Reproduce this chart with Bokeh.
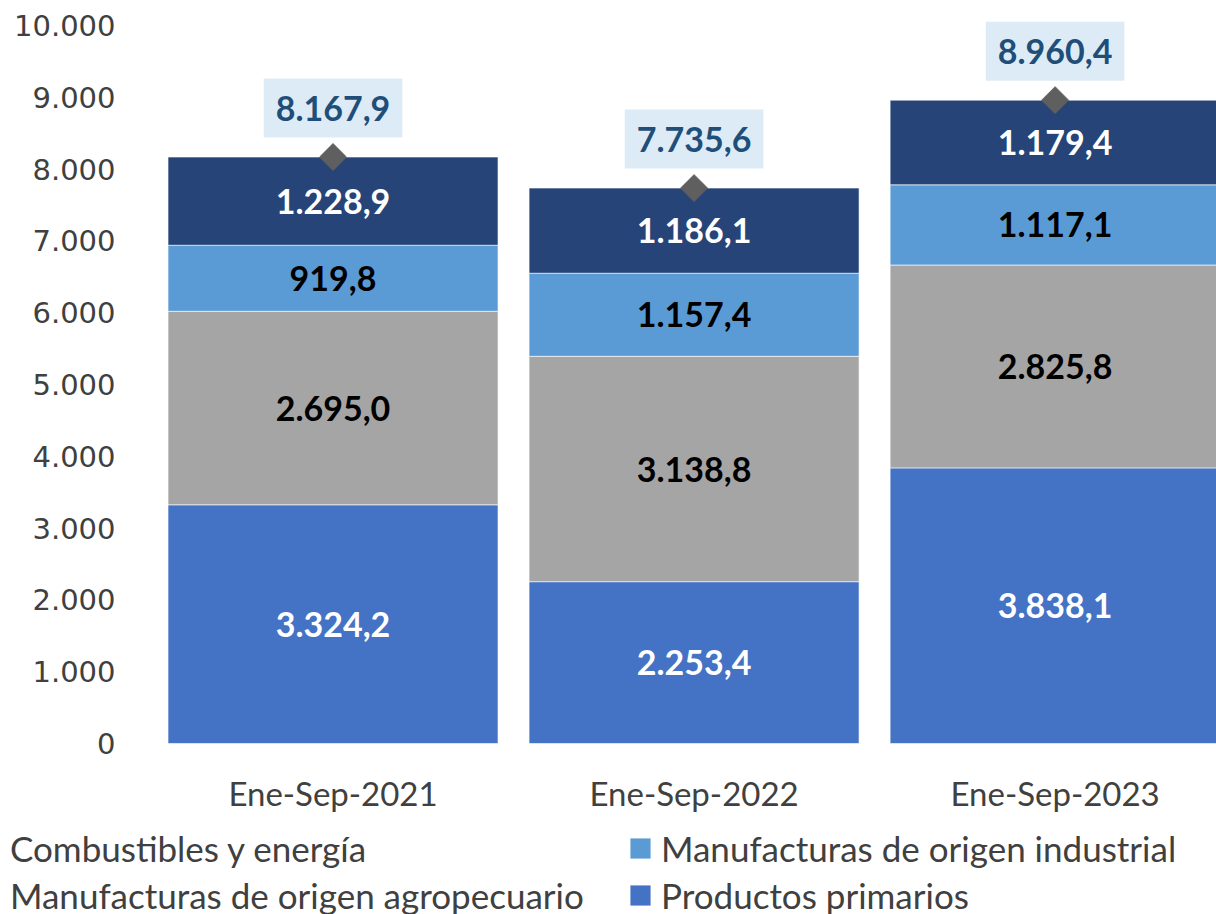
import numpy as np
from bokeh.plotting import figure
from bokeh.models import ColumnDataSource, Range1d, Legend, LegendItem
from bokeh.core.properties import value
from bokeh.embed import file_html
from bokeh.resources import INLINE

periods = ["Ene-Sep-2021", "Ene-Sep-2022", "Ene-Sep-2023"]
productos_primarios = [3324.2, 2253.4, 3838.1]
manuf_agropecuario = [2695.0, 3138.8, 2825.8]
manuf_industrial = [919.8, 1157.4, 1117.1]
combustibles = [1228.9, 1186.1, 1179.4]
totals = [8167.9, 7735.6, 8960.4]
y_ticks = [0, 1000, 2000, 3000, 4000, 5000, 6000, 7000, 8000, 9000, 10000]
y_tick_labels = ["0", "1.000", "2.000", "3.000", "4.000", "5.000",
                 "6.000", "7.000", "8.000", "9.000", "10.000"]

series_names = ["Productos primarios", "Manufacturas de origen agropecuario",
                "Manufacturas de origen industrial", "Combustibles y energía"]
series_keys = ["pp", "moa", "moi", "cye"]
series_colors = ["#4472C4", "#A5A5A5", "#5B9BD5", "#264478"]
label_colors = ["white", "black", "black", "white"]


def es(v):
    return f"{v:,.1f}".replace(",", "X").replace(".", ",").replace("X", ".")


xpos = [i + 0.5 for i in range(len(periods))]
data = dict(x=xpos, pp=productos_primarios, moa=manuf_agropecuario,
            moi=manuf_industrial, cye=combustibles)
src = ColumnDataSource(data)

# the plotting frame covers the whole canvas so the legend (which in the
# reference starts at the far left, below the axis labels) is not clipped
p = figure(width=1216, height=914, output_backend="svg", toolbar_location=None,
           x_range=Range1d(-0.421, 2.947), y_range=Range1d(-2382, 10348),
           x_axis_location=None, y_axis_location=None, min_border=0)
p.outline_line_color = None
p.xgrid.visible = False
p.ygrid.visible = False

renderers = p.vbar_stack(series_keys, x="x", width=0.914, source=src,
                         color=series_colors, line_color="white", line_width=0.6)

# value axis labels
p.text(x=0, y="y", text="t", source=ColumnDataSource(dict(y=y_ticks, t=y_tick_labels)),
       x_offset=-37, text_align="right", text_baseline="middle",
       text_font=value("DejaVu Sans"), text_font_size="29px", text_color="#404040")

# category axis labels
p.text(x="x", y=0, text="t", source=ColumnDataSource(dict(x=xpos, t=periods)),
       y_offset=50, text_align="center", text_baseline="middle",
       text_font=value("Lato"), text_font_size="33px", text_color="#404040")

# segment labels
vals = np.array([productos_primarios, manuf_agropecuario, manuf_industrial, combustibles])
cum = np.cumsum(vals, axis=0)
lx, ly, lt, lc = [], [], [], []
for s in range(vals.shape[0]):
    for i in range(vals.shape[1]):
        lx.append(xpos[i])
        ly.append(cum[s, i] - vals[s, i] / 2)
        lt.append(es(vals[s, i]))
        lc.append(label_colors[s])
p.text(x="x", y="y", text="t", text_color="c",
       source=ColumnDataSource(dict(x=lx, y=ly, t=lt, c=lc)),
       text_align="center", text_baseline="middle",
       text_font=value("Lato"), text_font_style="bold", text_font_size="34px")

# totals
tsrc = ColumnDataSource(dict(x=xpos, y=totals, t=[es(v) for v in totals]))
p.scatter(x="x", y="y", source=tsrc, marker="square", size=19, angle=np.pi / 4,
          fill_color="#5F5F5F", line_color="#5F5F5F")
p.text(x="x", y="y", text="t", source=tsrc, y_offset=-49,
       text_align="center", text_baseline="middle",
       text_font=value("Lato"), text_font_style="bold", text_font_size="34px",
       text_color="#1F4E79", background_fill_color="#DDEBF7",
       padding=dict(left=12, right=12, top=17, bottom=17))

# legend: two columns; the left column's markers fall outside the picture
hidden = [p.vbar(x=[], top=[], width=1, fill_alpha=0, line_alpha=0) for _ in range(2)]
common = dict(padding=0, margin=0, border_line_color=None, background_fill_alpha=0,
              label_text_font="Lato", label_text_font_size="35px",
              label_text_color="#404040", label_height=36, spacing=5,
              label_text_baseline="middle", glyph_height=26)
left_legend = Legend(items=[LegendItem(label=series_names[3], renderers=[hidden[0]]),
                            LegendItem(label=series_names[1], renderers=[hidden[1]])],
                     location=(9, -2), glyph_width=1, label_standoff=0, **common)
right_legend = Legend(items=[LegendItem(label=series_names[2], renderers=[renderers[2]]),
                             LegendItem(label=series_names[0], renderers=[renderers[0]])],
                      location=(627, -2), glyph_width=26, label_standoff=8, **common)
p.add_layout(left_legend, "center")
p.add_layout(right_legend, "center")

open("out.html", "w").write(file_html(p, INLINE))
